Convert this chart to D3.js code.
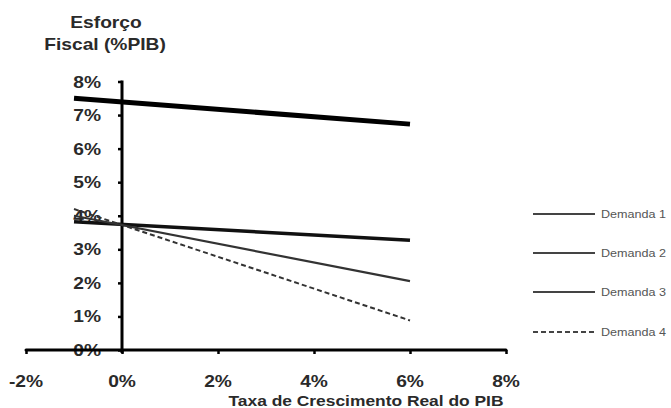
<!DOCTYPE html>
<html><head><meta charset="utf-8">
<script src="https://cdn.jsdelivr.net/npm/d3@7"></script>
<style>body{margin:0;background:#fff}svg{display:block}text{font-family:"Liberation Sans",Arial,sans-serif}</style>
</head><body><svg id="c" width="671" height="408"></svg>
<script>
const xTicks = [-2, 0, 2, 4, 6, 8];
const yTicks = [0, 1, 2, 3, 4, 5, 6, 7, 8];
const seriesNames = ["Demanda 1", "Demanda 2", "Demanda 3", "Demanda 4"];
const growth = [-1, 6];
const demanda1 = [7.5, 6.73];
const demanda2 = [3.82, 3.27];
const demanda3 = [4.0, 2.05];
const demanda4 = [4.2, 0.88];
const yTitle = ["Esforço", "Fiscal (%PIB)"];
const xTitle = "Taxa de Crescimento Real do PIB";

const svg = d3.select("#c");
const x = d3.scaleLinear().domain([-2, 8]).range([26, 506]);
const y = d3.scaleLinear().domain([0, 8]).range([350, 81.5]);
const SX = 1.2;
const col = "#2a2a2a";

function stext(px, py, str, size, anchor, weight, fill) {
  svg.append("text").attr("transform", `translate(${px},${py}) scale(${SX},1)`)
    .attr("text-anchor", anchor).attr("font-size", size).attr("font-weight", weight)
    .attr("fill", fill).text(str);
}

// titles
stext(106, 28, yTitle[0], 16, "middle", "bold", col);
stext(105, 50, yTitle[1], 16, "middle", "bold", col);
stext(366, 406, xTitle, 14.5, "middle", "bold", col);

// y axis
const yAxis = d3.axisLeft(y).tickValues(yTicks).tickSize(4).tickFormat("");
const gy = svg.append("g").attr("transform", `translate(${x(0)},0)`).call(yAxis);
gy.select(".domain").remove();
gy.selectAll(".tick line").attr("stroke", "#000").attr("stroke-width", 2.5);
svg.append("line").attr("x1", x(0)).attr("x2", x(0)).attr("y1", y(8) - 1).attr("y2", y(0) + 3)
  .attr("stroke", "#000").attr("stroke-width", 3);
yTicks.forEach(v => stext(101, y(v) + 6, v + "%", 16, "end", "bold", col));

// x axis
const xAxis = d3.axisBottom(x).tickValues(xTicks).tickSize(4).tickFormat("");
const gx = svg.append("g").attr("transform", `translate(0,${y(0)})`).call(xAxis);
gx.select(".domain").remove();
gx.selectAll(".tick line").attr("stroke", "#000").attr("stroke-width", 2.5);
svg.append("line").attr("x1", x(-2)).attr("x2", x(8)).attr("y1", y(0)).attr("y2", y(0))
  .attr("stroke", "#000").attr("stroke-width", 3).attr("stroke-linecap", "round");
xTicks.forEach(v => stext(x(v), 387, v + "%", 16, "middle", "bold", col));

// series
const series = [
  {vals: demanda1, w: 5, c: "#000", dash: null},
  {vals: demanda2, w: 3.5, c: "#111", dash: null},
  {vals: demanda3, w: 2.2, c: "#333", dash: null},
  {vals: demanda4, w: 2, c: "#333", dash: "5,3"}
];
const line = d3.line().x(d => x(d[0])).y(d => y(d[1]));
series.forEach(s => {
  svg.append("path").datum(growth.map((g, i) => [g, s.vals[i]]))
    .attr("d", line).attr("fill", "none").attr("stroke", s.c)
    .attr("stroke-width", s.w).attr("stroke-dasharray", s.dash);
});

// legend
const legY = [214, 253, 292, 332];
seriesNames.forEach((n, i) => {
  svg.append("line").attr("x1", 533).attr("x2", 595).attr("y1", legY[i]).attr("y2", legY[i])
    .attr("stroke", "#444").attr("stroke-width", 2.2)
    .attr("stroke-dasharray", i === 3 ? "5,3" : null);
  stext(601, legY[i] + 4, n, 10.5, "start", "normal", "#555");
});
</script></body></html>
